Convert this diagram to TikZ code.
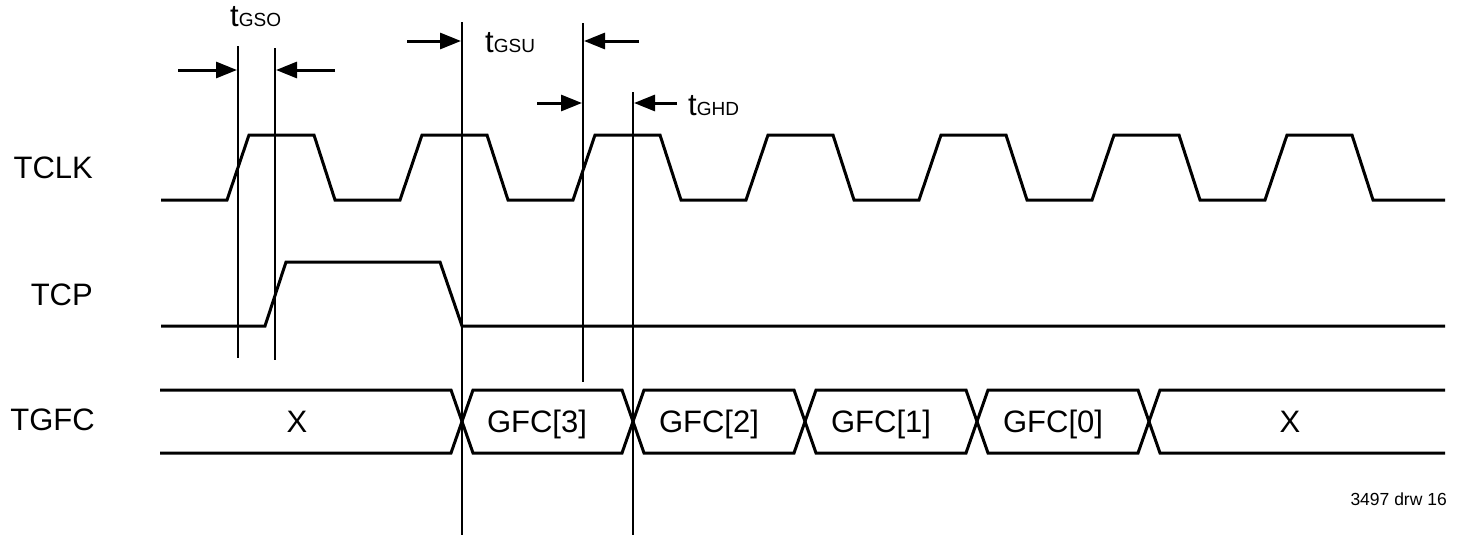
\documentclass[tikz,border=0pt]{standalone}
\usepackage{fontspec}
\setmainfont{Liberation Sans}
\usepackage{tikz}
\usetikzlibrary{positioning,arrows.meta}

\tikzset{
  wave/.style={line width=3pt},
  marker/.style={line width=2.6pt},
  dimarrow/.style={line width=3pt, -{Triangle[length=21pt,width=16pt]}},
  siglabel/.style={anchor=base east, inner sep=0pt, font=\fontsize{31}{36}\selectfont},
  buslabel/.style={anchor=base, inner sep=0pt, font=\fontsize{31}{36}\selectfont},
  tlabel/.style={anchor=base west, inner sep=0pt, font=\fontsize{31}{36}\selectfont}
}
\newcommand{\tsub}[1]{{\fontsize{19}{22}\selectfont #1}}

\begin{document}
\begin{tikzpicture}[x=1pt,y=-1pt]
\useasboundingbox (0,0) rectangle (1461,536);

% Signal names
\node[siglabel] (lblclk) at (93,178) {TCLK};
\node[siglabel] (lbltcp) at (93,305) {TCP};
\node[siglabel] (lblgfc) at (95,430) {TGFC};

% TCLK
\draw[wave] (161,200)
  \foreach \k in {0,...,6} {
    -- ({227+173*\k},200) -- ({249+173*\k},135)
    -- ({314+173*\k},135) -- ({335+173*\k},200)
  } -- (1445,200);

% TCP
\draw[wave] (161,326) -- (265,326) -- (286,262) -- (440,262)
  -- (462,326) -- (1445,326);

% TGFC bus
\def\bt{390}\def\bb{453}\def\bm{421.5}\def\bh{11}
\draw[wave] (160,\bt) -- (462-\bh,\bt) -- (462,\bm) -- (462-\bh,\bb) -- (160,\bb);
\foreach \a/\b in {462/633, 633/805, 805/977, 977/1149}
  \draw[wave] (\a,\bm) -- (\a+\bh,\bt) -- (\b-\bh,\bt) -- (\b,\bm)
    -- (\b-\bh,\bb) -- (\a+\bh,\bb) -- cycle;
\draw[wave] (1445,\bt) -- (1149+\bh,\bt) -- (1149,\bm) -- (1149+\bh,\bb) -- (1445,\bb);

\node[buslabel] (gfcx) at (297,432) {X};
\node[buslabel] (gfcc) at (537,432) {GFC[3]};
\node[buslabel] (gfcb) at (709,432) {GFC[2]};
\node[buslabel] (gfca) at (881,432) {GFC[1]};
\node[buslabel] (gfcz) at (1053,432) {GFC[0]};
\node[buslabel] (gfcy) at (1290,432) {X};

% Timing markers
\draw[marker] (238,46) -- (238,358);
\draw[marker] (275,48) -- (275,360);
\draw[marker] (462,22) -- (462,535);
\draw[marker] (583,23) -- (583,382);
\draw[marker] (633,92) -- (633,535);

% Arrows
\draw[dimarrow] (178,70) -- (237,70);
\draw[dimarrow] (335,70) -- (276,70);
\draw[dimarrow] (407,41) -- (461,41);
\draw[dimarrow] (639,41) -- (584,41);
\draw[dimarrow] (537,103) -- (582,103);
\draw[dimarrow] (677,103) -- (634,103);

% Labels
\node[tlabel] (tgso) at (230,26) {t\tsub{GSO}};
\node[tlabel] (tgsu) at (485,52) {t\tsub{GSU}};
\node[tlabel] (tghd) at (688,115) {t\tsub{GHD}};
\node[anchor=base east, inner sep=0pt, font=\fontsize{17.5}{20}\selectfont] (drw) at (1447,505) {3497 drw 16};
\end{tikzpicture}
\end{document}
